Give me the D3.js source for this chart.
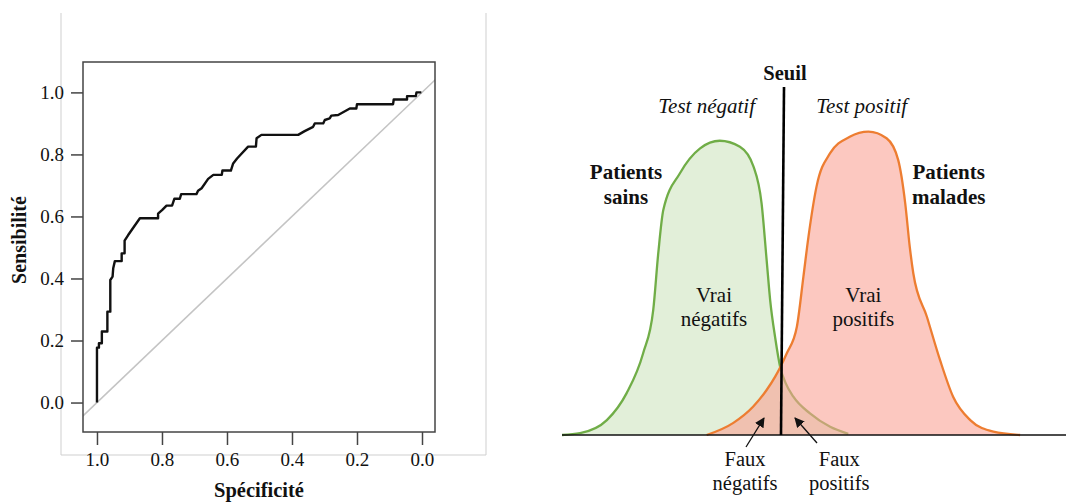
<!DOCTYPE html>
<html><head><meta charset="utf-8">
<script src="https://cdn.jsdelivr.net/npm/d3@7"></script>
<style>
html,body{margin:0;padding:0;background:#fff;}
text{font-family:"Liberation Serif","Times New Roman","DejaVu Serif",serif;fill:#111;}
</style></head>
<body>
<svg id="c" width="1066" height="503"></svg>
<script>
// ---------- ROC curve data ----------
const specificity = [1.000,1.000,0.994,0.994,0.985,0.985,0.968,0.968,0.959,0.959,0.952,0.950,0.945,0.924,0.924,0.915,0.915,0.904,0.868,0.812,0.812,0.799,0.786,0.769,0.762,0.745,0.741,0.694,0.689,0.678,0.658,0.642,0.616,0.614,0.588,0.581,0.569,0.535,0.511,0.509,0.494,0.381,0.361,0.335,0.330,0.304,0.299,0.284,0.279,0.258,0.222,0.202,0.200,0.089,0.087,0.046,0.046,0.019,0.017,0.002];
const sensitivity = [0.000,0.177,0.177,0.191,0.191,0.229,0.229,0.293,0.293,0.395,0.406,0.433,0.456,0.456,0.481,0.481,0.522,0.540,0.594,0.594,0.609,0.621,0.635,0.635,0.657,0.657,0.672,0.672,0.683,0.691,0.721,0.734,0.734,0.748,0.748,0.771,0.787,0.825,0.825,0.852,0.863,0.863,0.875,0.889,0.900,0.900,0.911,0.916,0.925,0.927,0.948,0.948,0.962,0.962,0.977,0.977,0.988,0.988,1.000,1.000];
const xTicks = [1.0,0.8,0.6,0.4,0.2,0.0];
const yTicks = [0.0,0.2,0.4,0.6,0.8,1.0];

// ---------- distributions data ----------
const healthyX = [0,3.6,8.9,12.8,16.1,18.1,19.1,20.1,23.4,27.4,31.3,35.3,38.0,39.6,40.6,41.3,42.3,43.3,44.4,45.9,49.2,53.2,56.8];
const healthyY = [0,0.006,0.049,0.137,0.269,0.411,0.598,0.740,0.861,0.943,0.968,0.948,0.883,0.762,0.576,0.444,0.320,0.223,0.170,0.126,0.071,0.027,0.004];
const sickX = [28.7,34.0,37.9,40.6,42.3,43.3,44.6,46.6,47.9,48.9,50.5,53.2,57.1,60.8,64.4,66.7,68.1,69.0,69.7,72.4,75.0,77.6,81.0,85.6,90.9];
const sickY = [0,0.040,0.093,0.148,0.192,0.223,0.269,0.356,0.521,0.652,0.817,0.927,0.981,0.998,0.976,0.905,0.762,0.619,0.532,0.389,0.247,0.126,0.049,0.011,0];
const thresholdBottom = 43.45, thresholdTop = 44.05;

const svg = d3.select("#c");

// ================= LEFT: ROC =================
const L = {x0:83, x1:435, y0:62, y1:432};
const xs = d3.scaleLinear().domain([1.043,-0.04]).range([L.x0,L.x1]);
const ys = d3.scaleLinear().domain([-0.095,1.098]).range([L.y1,L.y0]);

// outer light frame
const fr = svg.append("g").attr("stroke","#cfcfcf").attr("stroke-width",1);
fr.append("line").attr("x1",61).attr("x2",61).attr("y1",13).attr("y2",455);
fr.append("line").attr("x1",486).attr("x2",486).attr("y1",13).attr("y2",455);
fr.append("line").attr("x1",61).attr("x2",486).attr("y1",455).attr("y2",455);

svg.append("clipPath").attr("id","clipL").append("rect")
  .attr("x",L.x0).attr("y",L.y0).attr("width",L.x1-L.x0).attr("height",L.y1-L.y0);

// diagonal
svg.append("line").attr("clip-path","url(#clipL)")
  .attr("x1",xs(1.1)).attr("y1",ys(-0.1)).attr("x2",xs(-0.1)).attr("y2",ys(1.1))
  .attr("stroke","#c4c4c4").attr("stroke-width",1.6);

// ROC line
const rocPts = specificity.map((s,i)=>[s,sensitivity[i]]);
svg.append("path").datum(rocPts)
  .attr("d",d3.line().x(d=>xs(d[0])).y(d=>ys(d[1])))
  .attr("fill","none").attr("stroke","#111").attr("stroke-width",2.4)
  .attr("stroke-linejoin","round");

// box
svg.append("rect").attr("x",L.x0).attr("y",L.y0).attr("width",L.x1-L.x0).attr("height",L.y1-L.y0)
  .attr("fill","none").attr("stroke","#444").attr("stroke-width",1.5);

// axes
const ax = svg.append("g").attr("transform",`translate(0,${L.y1})`)
  .call(d3.axisBottom(xs).tickValues(xTicks).tickFormat(d3.format(".1f")).tickSize(13).tickPadding(7.5));
const ay = svg.append("g").attr("transform",`translate(${L.x0},0)`)
  .call(d3.axisLeft(ys).tickValues(yTicks).tickFormat(d3.format(".1f")).tickSize(12).tickPadding(7));
[ax,ay].forEach(g=>{
  g.select(".domain").remove();
  g.selectAll(".tick line").attr("stroke","#444").attr("stroke-width",1.5);
  g.selectAll(".tick text").attr("font-size",19).attr("fill","#222");
});

svg.append("text").attr("transform","translate(26,240) rotate(-90)")
  .attr("text-anchor","middle").attr("font-weight","bold").attr("font-size",20).text("Sensibilité");
svg.append("text").attr("x",259).attr("y",497)
  .attr("text-anchor","middle").attr("font-weight","bold").attr("font-size",20.5).text("Spécificité");

// ================= RIGHT: distributions =================
const xr = d3.scaleLinear().domain([0,100]).range([562,1066]);
const yr = d3.scaleLinear().domain([0,1]).range([435,131]);

const healthy = healthyX.map((x,i)=>[x,healthyY[i]]);
const sick = sickX.map((x,i)=>[x,sickY[i]]);
const curve = d3.curveMonotoneX;
const area = d3.area().x(d=>xr(d[0])).y0(yr(0)).y1(d=>yr(d[1])).curve(curve);
const line = d3.line().x(d=>xr(d[0])).y(d=>yr(d[1])).curve(curve);

svg.append("path").datum(healthy).attr("d",area).attr("fill","#e2efd9");
svg.append("path").datum(healthy).attr("d",line).attr("fill","none")
  .attr("stroke","#70ad47").attr("stroke-width",2.3);
svg.append("path").datum(sick).attr("d",area).attr("fill","rgb(250,162,148)").attr("fill-opacity",0.59);
svg.append("path").datum(sick).attr("d",line).attr("fill","none")
  .attr("stroke","#ed7d31").attr("stroke-width",2.3);

// baseline
svg.append("line").attr("x1",xr(0)).attr("x2",xr(100)).attr("y1",yr(0)).attr("y2",yr(0))
  .attr("stroke","#111").attr("stroke-width",1.6);

// threshold
svg.append("line").attr("x1",xr(thresholdBottom)).attr("y1",yr(0))
  .attr("x2",xr(thresholdTop)).attr("y2",yr(1.145))
  .attr("stroke","#000").attr("stroke-width",2.6);

// arrows
const defs = svg.append("defs");
defs.append("marker").attr("id","ah").attr("viewBox","0 0 10 10").attr("refX",9).attr("refY",5)
  .attr("markerWidth",10).attr("markerHeight",10).attr("markerUnits","userSpaceOnUse").attr("orient","auto")
  .append("path").attr("d","M0,0 L10,5 L0,10 Z").attr("fill","#111");
svg.append("line").attr("x1",746).attr("y1",447).attr("x2",764).attr("y2",418)
  .attr("stroke","#111").attr("stroke-width",1.3).attr("marker-end","url(#ah)");
svg.append("line").attr("x1",817).attr("y1",443).attr("x2",795).attr("y2",418)
  .attr("stroke","#111").attr("stroke-width",1.3).attr("marker-end","url(#ah)");

function label(x,y,lines,opts){
  const t = svg.append("text").attr("x",x).attr("y",y).attr("text-anchor","middle")
    .attr("font-size",opts.size||21);
  if(opts.bold) t.attr("font-weight","bold");
  if(opts.italic) t.attr("font-style","italic");
  lines.forEach((s,i)=>t.append("tspan").attr("x",x).attr("y",y+i*(opts.lh||24.5)).text(s));
}
label(785,80,["Seuil"],{bold:true,size:20.5});
label(706.7,113,["Test négatif"],{italic:true});
label(861.7,113,["Test positif"],{italic:true});
label(626,179,["Patients","sains"],{bold:true});
label(948.7,179,["Patients","malades"],{bold:true});
label(714,301.5,["Vrai","négatifs"],{});
label(863.3,301.5,["Vrai","positifs"],{});
label(745,466,["Faux","négatifs"],{size:20.5,lh:24});
label(839.3,466,["Faux","positifs"],{size:20.5,lh:24});
</script>
</body></html>
